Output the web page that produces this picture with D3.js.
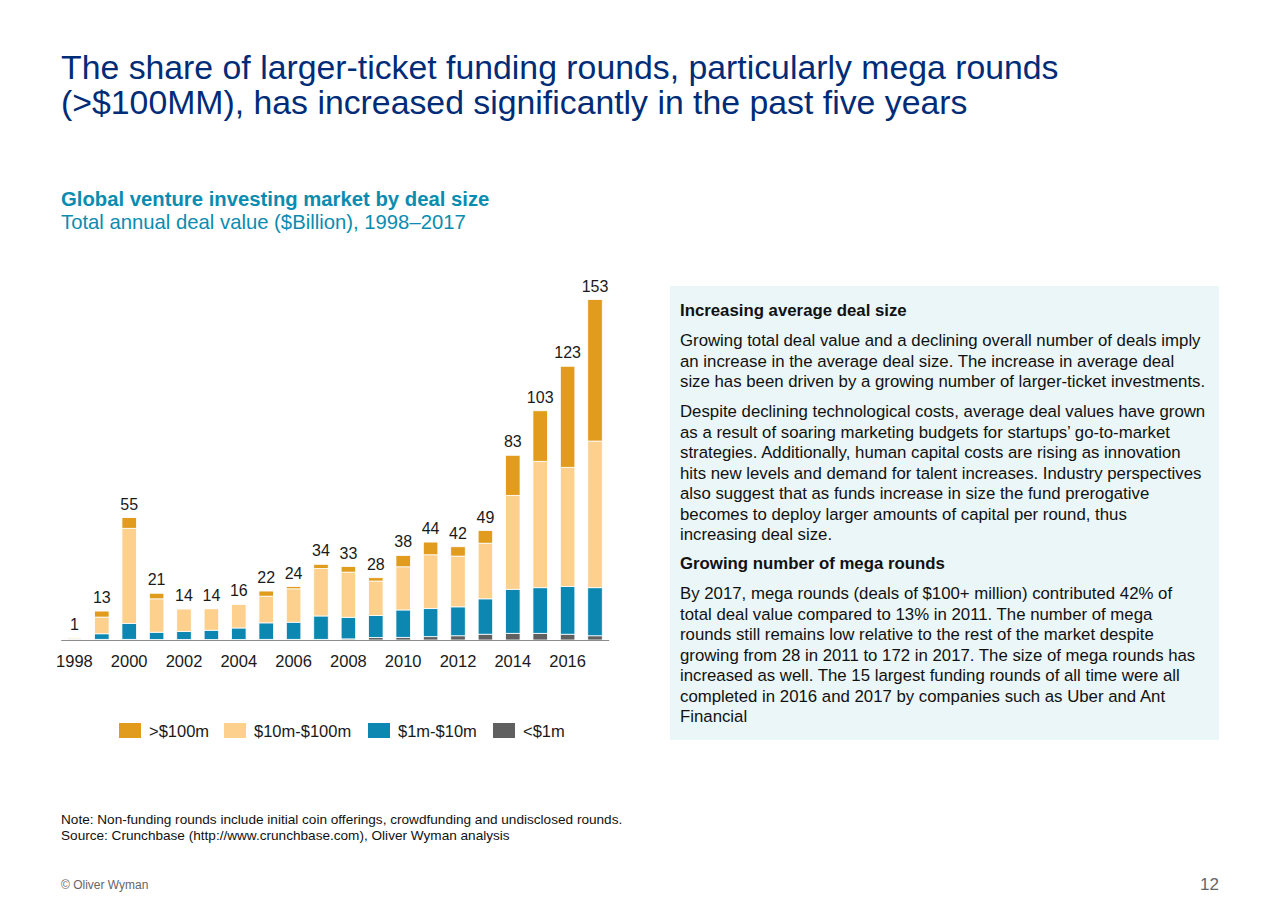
<!DOCTYPE html>
<html>
<head>
<meta charset="utf-8">
<script src="https://cdn.jsdelivr.net/npm/d3@7"></script>
<style>
  body { margin: 0; background: #fff; }
  svg { display: block; font-family: "Liberation Sans", Arial, sans-serif; }
</style>
</head>
<body>
<div class="visholder"></div>
<script>
// deal value by deal size, $B
const years = d3.range(1998, 2018);
const over100 = [0, 2.7, 4.8, 2.5, 0, 0, 0, 2.3, 1.0, 1.9, 2.5, 1.5, 5.1, 5.7, 4.2, 5.7, 18, 22.7, 45.4, 63.6];
const m10to100 = [0.5, 7.5, 42.7, 15.0, 10, 9.6, 10.6, 12, 15, 21.3, 20.3, 15.5, 19.4, 24.2, 22.8, 25, 42.2, 56.8, 53.6, 65.9];
const m1to10 = [0.4, 2.5, 7.2, 3.3, 3.7, 4.2, 5.2, 7.4, 7.7, 10.5, 9.7, 9.9, 12.3, 12.6, 13, 15.9, 19.8, 20.5, 21.4, 21.6];
const under1 = [0.1, 0.3, 0.3, 0.2, 0.2, 0.2, 0.2, 0.3, 0.3, 0.3, 0.5, 1.1, 1.2, 1.5, 1.9, 2.6, 3.0, 3.0, 2.6, 1.9];
const totals = [1, 13, 55, 21, 14, 14, 16, 22, 24, 34, 33, 28, 38, 44, 42, 49, 83, 103, 123, 153];
const tickYears = [1998, 2000, 2002, 2004, 2006, 2008, 2010, 2012, 2014, 2016];

const seriesNames = [">$100m", "$10m-$100m", "$1m-$10m", "<$1m"];
const colors = ["#E19B1D", "#FDD08E", "#0C87B2", "#606060"];

const width = 1280, height = 915;

const svg = d3.select(".visholder")
    .append("svg")
    .attr("width", width)
    .attr("height", height);

// titles
svg.append("text")
    .attr("x", 61).attr("y", 79)
    .attr("fill", "#002C77")
    .style("font-size", "33.8px")
    .text("The share of larger-ticket funding rounds, particularly mega rounds");
svg.append("text")
    .attr("x", 61).attr("y", 114)
    .attr("fill", "#002C77")
    .style("font-size", "33.8px")
    .text("(>$100MM), has increased significantly in the past five years");

svg.append("text")
    .attr("x", 61).attr("y", 206)
    .attr("fill", "#0A8CB0")
    .style("font-size", "20.3px")
    .style("font-weight", "bold")
    .text("Global venture investing market by deal size");
svg.append("text")
    .attr("x", 61).attr("y", 229)
    .attr("fill", "#0A8CB0")
    .style("font-size", "20.3px")
    .text("Total annual deal value ($Billion), 1998\u20132017");

// chart
const table = years.map(function (y, i) {
    return {
        year: y,
        "<$1m": under1[i],
        "$1m-$10m": m1to10[i],
        "$10m-$100m": m10to100[i],
        ">$100m": over100[i],
        total: totals[i]
    };
});

const x = d3.scaleBand()
    .domain(years)
    .range([60.7, 608.7])
    .paddingInner(0.47)
    .paddingOuter(0.235);

const y = d3.scaleLinear()
    .domain([0, 153])
    .range([640, 299.5]);

const stack = d3.stack().keys(seriesNames.slice().reverse());
const layers = stack(table);

const layerG = svg.append("g").attr("id", "bars")
    .selectAll("g")
    .data(layers)
    .enter()
    .append("g")
    .attr("fill", function (d) {
        return colors[seriesNames.indexOf(d.key)];
    });

layerG.selectAll("rect")
    .data(function (d) { return d; })
    .enter()
    .append("rect")
    .attr("x", function (d) { return x(d.data.year); })
    .attr("width", x.bandwidth())
    .attr("y", function (d) { return y(d[1]); })
    .attr("height", function (d) { return Math.max(0, y(d[0]) - y(d[1])); })
    .attr("stroke", "#fff")
    .attr("stroke-width", 0.8);

const xAxis = d3.axisBottom(x)
    .tickValues(tickYears)
    .tickSize(0)
    .tickPadding(15);

const axisG = svg.append("g")
    .attr("transform", `translate(0, ${y(0)})`)
    .call(xAxis);
axisG.select(".domain").attr("stroke", "#8c8c8c").attr("stroke-width", 1.2);
axisG.selectAll("text")
    .attr("fill", "#1a1a1a")
    .style("font-size", "16.5px")
    .style("font-family", "'Liberation Sans', Arial, sans-serif");

svg.append("g").attr("id", "totals")
    .selectAll("text")
    .data(table)
    .enter()
    .append("text")
    .attr("x", function (d) { return x(d.year) + x.bandwidth() / 2; })
    .attr("y", function (d) { return y(d.total) - 8; })
    .attr("text-anchor", "middle")
    .attr("fill", "#1a1a1a")
    .style("font-size", "16px")
    .text(function (d) { return d.total; });

// legend
const legendX = [119, 224, 368, 493];
const legend = svg.append("g").attr("id", "legend")
    .selectAll("g")
    .data(seriesNames)
    .enter()
    .append("g")
    .attr("transform", function (d, i) {
        return `translate(${legendX[i]}, 723)`;
    });
legend.append("rect")
    .attr("width", 22)
    .attr("height", 15)
    .attr("fill", function (d, i) { return colors[i]; });
legend.append("text")
    .attr("x", 30)
    .attr("y", 14)
    .attr("fill", "#1a1a1a")
    .style("font-size", "16.5px")
    .text(function (d) { return d; });

// side panel
svg.append("rect")
    .attr("x", 670).attr("y", 286)
    .attr("width", 549).attr("height", 454)
    .attr("fill", "#EAF6F8");

const panelLines = [
    { t: "Increasing average deal size", b: true, y: 316 },
    { t: "Growing total deal value and a declining overall number of deals imply", y: 346 },
    { t: "an increase in the average deal size. The increase in average deal", y: 366.5 },
    { t: "size has been driven by a growing number of larger-ticket investments.", y: 387 },
    { t: "Despite declining technological costs, average deal values have grown", y: 417 },
    { t: "as a result of soaring marketing budgets for startups\u2019 go-to-market", y: 437.5 },
    { t: "strategies. Additionally, human capital costs are rising as innovation", y: 458 },
    { t: "hits new levels and demand for talent increases. Industry perspectives", y: 478.5 },
    { t: "also suggest that as funds increase in size the fund prerogative", y: 499 },
    { t: "becomes to deploy larger amounts of capital per round, thus", y: 519.5 },
    { t: "increasing deal size.", y: 540 },
    { t: "Growing number of mega rounds", b: true, y: 569 },
    { t: "By 2017, mega rounds (deals of $100+ million) contributed 42% of", y: 599 },
    { t: "total deal value compared to 13% in 2011. The number of mega", y: 619.5 },
    { t: "rounds still remains low relative to the rest of the market despite", y: 640 },
    { t: "growing from 28 in 2011 to 172 in 2017. The size of mega rounds has", y: 660.5 },
    { t: "increased as well. The 15 largest funding rounds of all time were all", y: 681 },
    { t: "completed in 2016 and 2017 by companies such as Uber and Ant", y: 701.5 },
    { t: "Financial", y: 722 }
];
svg.append("g").attr("id", "panel-text")
    .selectAll("text")
    .data(panelLines)
    .enter()
    .append("text")
    .attr("x", 680)
    .attr("y", function (d) { return d.y; })
    .attr("fill", "#111")
    .style("font-size", "16.8px")
    .style("font-weight", function (d) { return d.b ? "bold" : "normal"; })
    .text(function (d) { return d.t; });

// footer
svg.append("text")
    .attr("x", 61).attr("y", 824)
    .attr("fill", "#111")
    .style("font-size", "13.6px")
    .text("Note: Non-funding rounds include initial coin offerings, crowdfunding and undisclosed rounds.");
svg.append("text")
    .attr("x", 61).attr("y", 840)
    .attr("fill", "#111")
    .style("font-size", "13.6px")
    .text("Source: Crunchbase (http://www.crunchbase.com), Oliver Wyman analysis");
svg.append("text")
    .attr("x", 61).attr("y", 889)
    .attr("fill", "#666")
    .style("font-size", "12px")
    .text("\u00A9 Oliver Wyman");
svg.append("text")
    .attr("x", 1219).attr("y", 890)
    .attr("text-anchor", "end")
    .attr("fill", "#666")
    .style("font-size", "17px")
    .text("12");
</script>
</body>
</html>
